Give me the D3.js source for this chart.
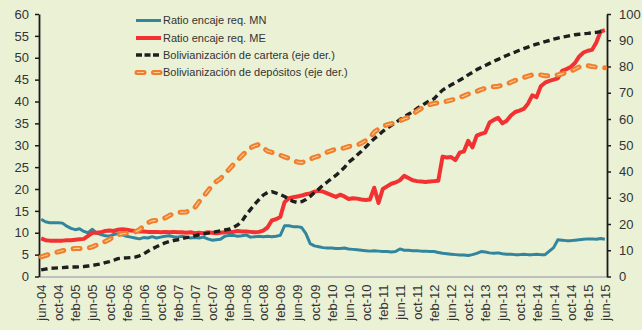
<!DOCTYPE html>
<html>
<head>
<meta charset="utf-8">
<script src="https://cdn.jsdelivr.net/npm/d3@7"></script>
<style>
  html, body { margin: 0; padding: 0; background: #EBF1D5; }
  svg { display: block; }
</style>
</head>
<body>
<svg id="chart" width="642" height="330"></svg>
<script>
// Monthly series, jun-04 .. jun-15 (133 months)
const startMonth = new Date(2004, 5, 1);
const endMonth = new Date(2015, 5, 1);

const tickLabels = [
  "jun-04","oct-04","feb-05","jun-05","oct-05","feb-06","jun-06","oct-06","feb-07",
  "jun-07","oct-07","feb-08","jun-08","oct-08","feb-09","jun-09","oct-09","feb-10",
  "jun-10","oct-10","feb-11","jun-11","oct-11","feb-12","jun-12","oct-12","feb-13",
  "jun-13","oct-13","feb-14","jun-14","oct-14","feb-15","jun-15"
];

const seriesNames = [
  "Ratio encaje req. MN",
  "Ratio encaje req. ME",
  "Bolivianización de cartera (eje der.)",
  "Bolivianización de depósitos (eje der.)"
];

// Ratio encaje requerido MN (%, left axis)
const encajeMN = [
  13.1,12.5,12.3,12.3,12.3,12.2,11.5,11.0,10.7,10.9,10.3,10.0,
  10.8,9.9,9.6,9.3,9.2,9.6,9.8,9.5,9.2,9.0,8.8,8.6,
  8.9,8.8,9.1,8.8,9.0,9.2,9.3,9.1,9.0,9.2,9.0,8.8,
  8.9,8.8,9.0,8.6,8.3,8.4,8.5,9.2,9.4,9.4,9.2,9.3,
  9.5,9.0,9.1,9.2,9.1,9.2,9.1,9.2,9.4,11.6,11.6,11.4,
  11.4,11.2,9.8,7.5,7.0,6.8,6.6,6.5,6.5,6.4,6.4,6.5,
  6.3,6.2,6.1,6.0,5.9,5.8,5.9,5.8,5.7,5.7,5.6,5.7,
  6.3,6.0,6.0,5.9,5.9,5.8,5.8,5.7,5.7,5.5,5.3,5.2,
  5.1,5.0,4.9,4.9,4.8,5.0,5.3,5.7,5.6,5.4,5.3,5.4,
  5.2,5.1,5.1,5.0,5.0,5.1,5.0,5.0,5.1,5.0,5.0,5.8,
  6.6,8.4,8.3,8.2,8.2,8.3,8.4,8.5,8.6,8.6,8.5,8.7,
  8.5
];

// Ratio encaje requerido ME (%, left axis)
const encajeME = [
  8.7,8.3,8.2,8.2,8.2,8.2,8.3,8.3,8.4,8.5,8.6,9.3,
  10.0,10.0,10.1,10.4,10.5,10.4,10.7,10.8,10.7,10.5,10.4,10.3,
  10.3,10.2,10.2,10.2,10.1,10.2,10.1,10.2,10.1,10.1,10.0,10.1,
  9.9,10.0,9.9,10.1,10.0,9.9,10.0,10.1,10.2,10.2,10.4,10.3,
  10.3,10.2,10.1,10.2,10.5,11.2,12.8,13.1,13.6,17.0,17.9,18.1,
  18.3,18.5,18.8,19.0,19.4,19.6,19.4,19.0,18.6,18.2,18.7,18.3,
  17.7,17.9,17.8,17.6,17.5,17.6,20.3,16.8,20.0,20.6,21.2,21.5,
  22.0,23.0,22.5,22.0,21.8,21.7,21.6,21.7,21.8,21.9,27.4,27.2,
  27.3,26.6,28.3,28.6,31.0,29.5,32.2,32.6,32.9,35.2,35.8,36.3,
  35.0,35.6,36.8,37.6,37.9,38.3,39.5,41.4,41.0,43.5,44.3,44.7,
  45.0,45.3,47.0,47.4,47.9,48.8,50.3,51.2,51.6,51.8,53.5,56.0,
  56.3
];

// Bolivianización de cartera (%, right axis)
const bolCartera = [
  2.5,2.8,3.1,3.2,3.3,3.4,3.5,3.6,3.6,3.7,3.8,4.0,
  4.2,4.5,4.8,5.3,5.7,6.2,6.8,7.0,7.1,7.2,7.4,7.9,
  8.6,9.6,10.5,11.3,12.1,12.8,13.3,13.7,14.0,14.4,14.8,15.1,
  15.5,15.9,16.2,16.5,16.8,17.1,17.4,17.7,18.0,18.7,19.6,21.0,
  23.5,25.5,27.5,29.3,31.0,32.0,32.3,31.8,31.2,30.5,29.5,28.6,
  28.2,28.5,29.3,30.5,32.0,33.3,34.8,36.0,37.3,38.5,40.0,41.5,
  43.5,44.8,46.3,47.7,49.3,51.0,52.5,53.8,55.3,56.5,57.6,58.6,
  59.8,60.8,61.8,62.8,64.0,65.0,66.0,67.0,67.7,69.5,71.0,72.0,
  73.0,73.8,74.8,75.7,76.8,77.8,78.8,79.6,80.4,81.2,82.0,82.7,
  83.5,84.2,84.9,85.5,86.2,86.8,87.4,88.0,88.5,89.0,89.5,89.9,
  90.4,90.8,91.2,91.5,91.8,92.1,92.3,92.5,92.6,92.8,93.0,93.3,
  93.6
];

// Bolivianización de depósitos (%, right axis)
const bolDepositos = [
  7.5,8.0,8.5,9.0,9.4,9.8,10.2,10.5,10.7,10.7,10.7,10.8,
  11.3,12.0,12.5,13.3,14.1,15.2,15.9,16.3,16.5,16.6,16.9,17.8,
  19.3,20.5,21.2,21.4,21.6,22.3,23.2,24.0,24.4,24.5,24.6,25.2,
  26.3,28.5,30.5,32.5,34.6,36.2,37.3,39.0,40.8,42.6,44.2,46.0,
  47.6,49.0,49.8,50.3,49.0,47.8,47.3,46.8,46.2,45.6,45.0,44.3,
  43.6,43.4,44.0,44.7,45.4,45.9,46.6,47.4,48.0,48.5,48.6,49.0,
  49.5,49.8,50.1,50.8,51.8,52.8,55.0,56.2,57.2,57.8,58.2,58.7,
  59.3,60.0,60.6,61.8,63.0,64.0,64.8,65.5,65.9,66.2,66.4,66.8,
  67.2,67.6,68.2,68.8,69.5,70.0,70.5,71.2,71.7,72.0,72.3,72.5,
  72.8,73.3,74.0,74.7,75.2,75.8,76.3,76.8,77.0,76.8,76.5,76.5,
  76.6,76.8,77.2,77.7,78.2,79.0,79.8,80.4,80.3,80.0,79.8,79.6,
  79.5
];

const leftTicks = d3.range(0, 61, 5);
const rightTicks = d3.range(0, 101, 10);

// ---- layout ----
const svg = d3.select("#chart");
const W = 642, H = 330;
const plot = { left: 39, right: 607, top: 14, bottom: 276.5 };
const textColor = "#333333";
const font = "'Liberation Sans', Arial, sans-serif";

svg.append("rect").attr("width", W).attr("height", H).attr("fill", "#EBF1D5");

const fmt = d3.timeFormat("%m-%y");
const monthNames = ["ene","feb","mar","abr","may","jun","jul","ago","sep","oct","nov","dic"];
const months = d3.timeMonth.range(startMonth, d3.timeMonth.offset(endMonth, 1))
  .map(d => monthNames[d.getMonth()] + "-" + String(d.getFullYear()).slice(2));

const x = d3.scalePoint().domain(months).range([plot.left, plot.right]).padding(0.5);
const yL = d3.scaleLinear().domain([0, 60]).range([plot.bottom, plot.top]);
const yR = d3.scaleLinear().domain([0, 100]).range([plot.bottom, plot.top]);

// ---- axes ----
const gx = svg.append("g").attr("transform", `translate(0,${plot.bottom})`)
  .call(d3.axisBottom(x).tickValues(tickLabels).tickSize(0).tickPadding(0));
gx.select(".domain").remove();
gx.selectAll("text")
  .attr("transform", "rotate(-90)")
  .attr("text-anchor", "end")
  .attr("x", -8).attr("y", 0).attr("dy", "0.35em")
  .style("font-family", font).style("font-size", "13px").attr("fill", textColor);

svg.append("line")
  .attr("x1", plot.left).attr("x2", plot.right)
  .attr("y1", plot.bottom + 0.5).attr("y2", plot.bottom + 0.5)
  .attr("stroke", "#BFBFBF").attr("stroke-width", 2.2);

const gl = svg.append("g").attr("transform", `translate(${plot.left},0)`)
  .call(d3.axisLeft(yL).tickValues(leftTicks).tickSize(4).tickSizeOuter(0).tickPadding(6));
const gr = svg.append("g").attr("transform", `translate(${plot.right},0)`)
  .call(d3.axisRight(yR).tickValues(rightTicks).tickSize(4).tickSizeOuter(0).tickPadding(8));
[gl, gr].forEach(g => {
  g.select(".domain").attr("stroke", "#1a1a1a").attr("stroke-width", 1.8);
  g.selectAll(".tick line").attr("stroke", "#1a1a1a").attr("stroke-width", 1.5);
  g.selectAll("text").style("font-family", font).style("font-size", "13px").attr("fill", textColor);
});

// ---- lines ----
const lineL = d3.line().x((d, i) => x(months[i])).y(d => yL(d)).curve(d3.curveLinear);
const lineR = d3.line().x((d, i) => x(months[i])).y(d => yR(d)).curve(d3.curveLinear);

const styles = {
  mn:  { stroke: "#31859C", width: 3 },
  me:  { stroke: "#F23232", width: 4 },
  car: { stroke: "#1E1E1E", width: 3.4, dash: "6.5,4" },
  dep: { stroke: "#F07E2A", width: 5, dash: "7,9.5", inner: "#F9C9A0" }
};

function drawSeries(data, line, s, parent) {
  const p = parent.append("path").attr("d", line(data))
    .attr("fill", "none").attr("stroke", s.stroke).attr("stroke-width", s.width)
    .attr("stroke-linejoin", "round");
  if (s.dash) p.attr("stroke-dasharray", s.dash);
  if (s.inner) {
    p.attr("stroke-linecap", "round");
    parent.append("path").attr("d", line(data))
      .attr("fill", "none").attr("stroke", s.inner).attr("stroke-width", 1.1)
      .attr("stroke-dasharray", s.dash);
  }
}

const gLines = svg.append("g");
drawSeries(encajeMN, lineL, styles.mn, gLines);
drawSeries(encajeME, lineL, styles.me, gLines);
drawSeries(bolCartera, lineR, styles.car, gLines);
drawSeries(bolDepositos, lineR, styles.dep, gLines);

// ---- legend ----
const legend = svg.append("g");
const legendKeys = [styles.mn, styles.me, styles.car, styles.dep];
const legendY = [20.5, 38, 55, 72.5];
legendKeys.forEach((s, i) => {
  const y0 = legendY[i];
  const ln = legend.append("line")
    .attr("x1", 136).attr("x2", s.inner ? 160 : 161)
    .attr("y1", y0).attr("y2", y0)
    .attr("stroke", s.stroke).attr("stroke-width", s.width);
  if (s.dash) ln.attr("stroke-dasharray", s.inner ? "7,9.5" : "6,2.5");
  if (s.inner) {
    ln.attr("x1", 137).attr("stroke-linecap", "round");
    legend.append("line").attr("x1", 137).attr("x2", 160).attr("y1", y0).attr("y2", y0)
      .attr("stroke", s.inner).attr("stroke-width", 1.1).attr("stroke-dasharray", "7,9.5");
  }
  legend.append("text").attr("x", 163).attr("y", y0).attr("dy", "0.35em")
    .style("font-family", font).style("font-size", "11px").attr("fill", textColor)
    .text(seriesNames[i]);
});
</script>
</body>
</html>
